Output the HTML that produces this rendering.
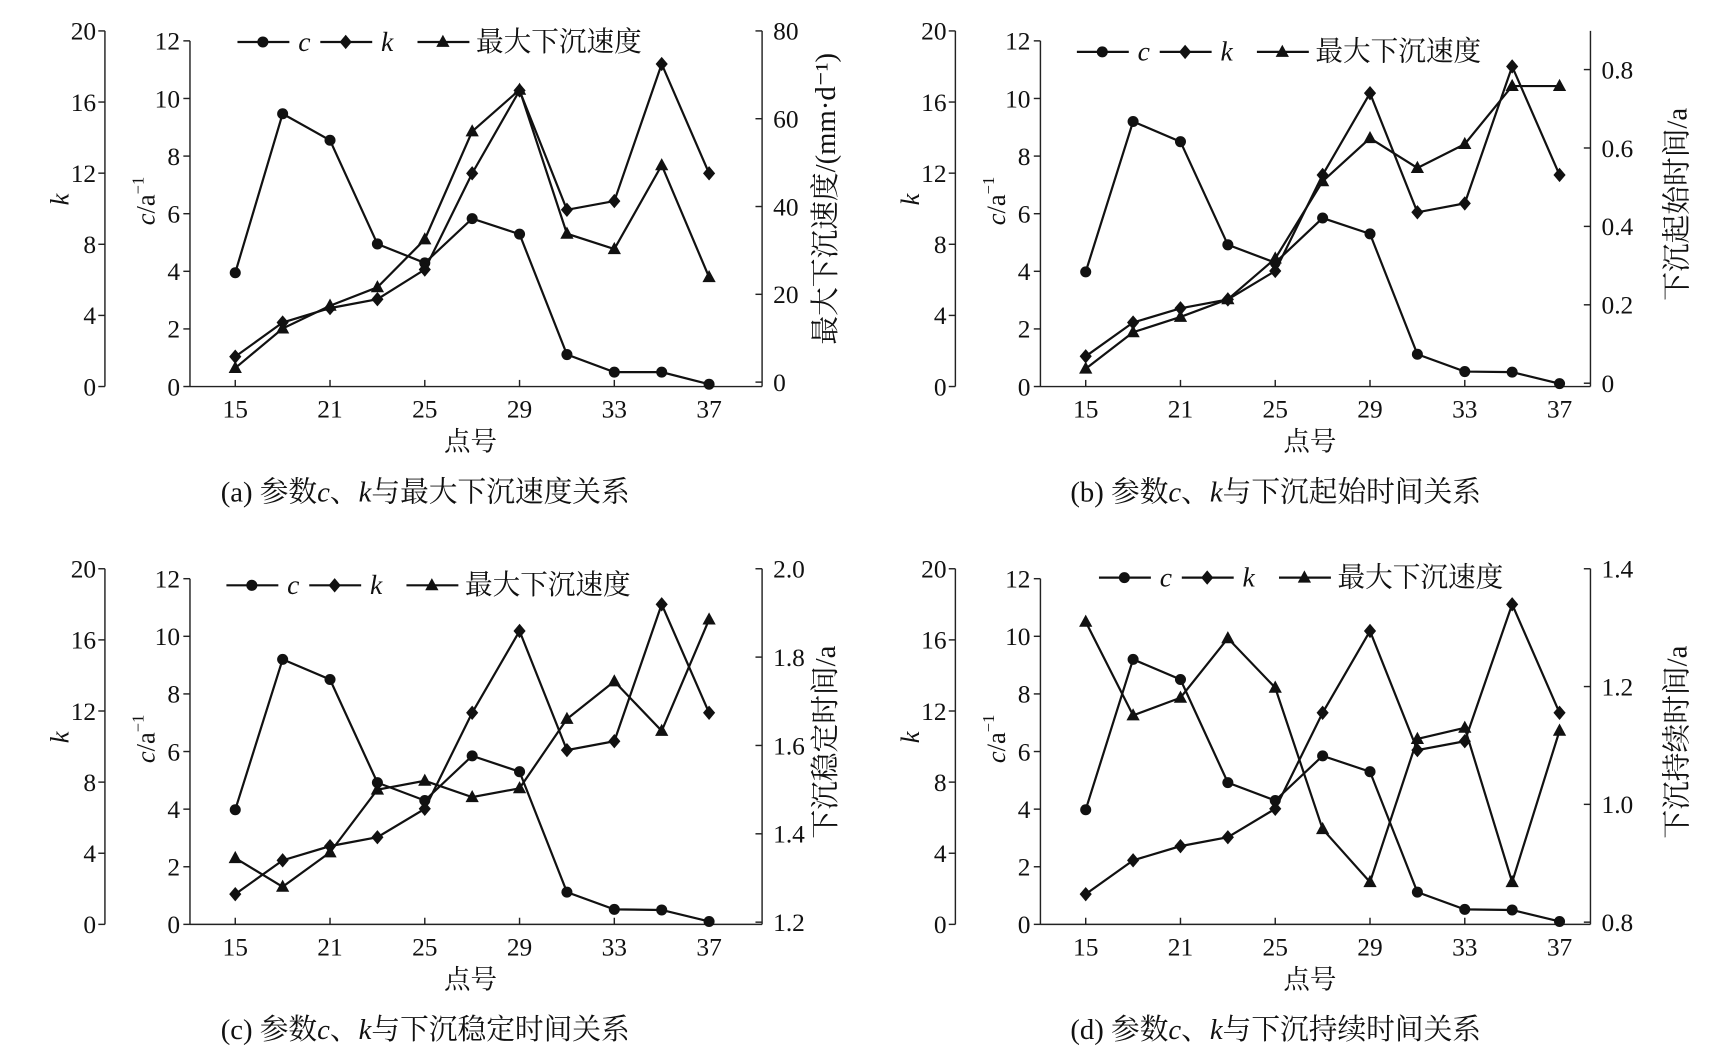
<!DOCTYPE html>
<html><head><meta charset="utf-8"><style>
html,body{margin:0;padding:0;background:#fff;}
svg{display:block;}
text{font-family:"Liberation Serif","Noto Serif CJK SC","Noto Sans CJK SC",serif;fill:#111;}
</style></head><body>
<svg id="chart" width="1723" height="1058" viewBox="0 0 1560 958" preserveAspectRatio="none" xmlns="http://www.w3.org/2000/svg"></svg>
<script>
const points = [15,17,21,23,25,27,29,31,33,35,37];
const xTickIdx = [0,2,4,6,8,10];
const xTickLabels = ["15","21","25","29","33","37"];
const cA = [3.95,9.47,8.55,4.95,4.29,5.83,5.29,1.11,0.50,0.50,0.08];
const kA = [1.68,3.6,4.41,4.91,6.58,11.99,16.65,9.94,10.43,18.14,11.99];
const cOther = [3.98,9.2,8.5,4.92,4.3,5.85,5.3,1.12,0.52,0.50,0.10];
const kOther = [1.7,3.6,4.4,4.9,6.5,11.9,16.5,9.8,10.3,18.0,11.9];
const speedA = [3.2,12.2,17.4,21.6,32.5,57.1,66.6,33.8,30.3,49.4,23.9];
const startB = [0.037,0.13,0.169,0.214,0.318,0.515,0.625,0.549,0.61,0.758,0.758];
const stableC = [1.345,1.28,1.358,1.5,1.52,1.483,1.503,1.66,1.745,1.633,1.885];
const durD = [1.31,1.151,1.181,1.282,1.198,0.958,0.868,1.111,1.13,0.868,1.125];
const cTicks = [0,2,4,6,8,10,12];
const kTicks = [0,4,8,12,16,20];
const rTicksA = [0,20,40,60,80];
const rTicksB = [0,0.2,0.4,0.6,0.8];
const rTicksC = [1.2,1.4,1.6,1.8,2.0];
const rTicksD = [0.8,1.0,1.2,1.4];

const svg = document.getElementById('chart');
const NS = 'http://www.w3.org/2000/svg';
function el(tag, attrs, parent){const e=document.createElementNS(NS,tag);for(const k in attrs)e.setAttribute(k,attrs[k]);(parent||svg).appendChild(e);return e;}
function txt(s, attrs, parent){const e=el('text',attrs,parent);e.textContent=s;return e;}

function panel(o){
  const g=el('g',{});
  
  
  const dx=o.dx, dy=o.dy;
  const L=172+dx, R=o.right+dx, B=350+dy, T=28+dy, kx=95+dx;
  const cTop=37+dy;
  const xs=i=>213+dx+i*42.9;
  const yc=v=>B-v*(B-cTop)/12;
  const yk=v=>B-v*(B-T)/20;
  const rZ=o.rZero+dy, rT=o.rTopY+dy;
  const yr=v=>rZ-(v-o.rMin)*(rZ-rT)/(o.rMax-o.rMin);
  const ax={stroke:'#222','stroke-width':1.3,fill:'none'};
  const kAxis=el('line',Object.assign({x1:kx,y1:T,x2:kx,y2:B},ax),g);
  
  
  kTicks.forEach(v=>{el('line',Object.assign({x1:kx-6,y1:yk(v),x2:kx,y2:yk(v)},ax),g);
    txt(String(v),{x:kx-8,y:yk(v)+8,'font-size':23,'text-anchor':'end'},g);});
  const cAxis=el('line',Object.assign({x1:L,y1:cTop,x2:L,y2:B},ax),g);
  
  
  cTicks.forEach(v=>{el('line',Object.assign({x1:L-6,y1:yc(v),x2:L,y2:yc(v)},ax),g);
    txt(String(v),{x:L-9,y:yc(v)+8,'font-size':23,'text-anchor':'end'},g);});
  const xAxis=el('line',Object.assign({x1:L,y1:B,x2:R,y2:B},ax),g);
  
  
  xTickIdx.forEach((i,j)=>{el('line',Object.assign({x1:xs(i),y1:B,x2:xs(i),y2:B-6},ax),g);
    txt(xTickLabels[j],{x:xs(i),y:B+28,'font-size':23,'text-anchor':'middle'},g);});
  const rAxis=el('line',Object.assign({x1:R,y1:T,x2:R,y2:B},ax),g);
  
  
  o.rTicks.forEach(v=>{el('line',Object.assign({x1:R-6,y1:yr(v),x2:R,y2:yr(v)},ax),g);
    txt(o.rFmt(v),{x:R+10,y:yr(v)+8,'font-size':23},g);});
  const kt=txt('k',{x:0,y:0,'font-size':24,'font-style':'italic',transform:`translate(${62+dx},${186+dy}) rotate(-90)`},g);
  
  
  const ct=el('text',{x:0,y:0,'font-size':24,'text-anchor':'middle',transform:`translate(${140+dx},${182+dy}) rotate(-90)`},g);
  
  
  ct.innerHTML='<tspan font-style="italic">c</tspan>/a<tspan font-size="15" dy="-10">−1</tspan>';
  const rt=txt(o.rTitle,{x:0,y:0,'font-size':26,'text-anchor':'middle',transform:`translate(${R+o.rTitleOff},${o.rTitleY+dy}) rotate(-90)`},g);
  
  
  const xt=txt('点号',{x:L+(R-L)/2-5,y:B+58,'font-size':24,'text-anchor':'middle'},g);
  
  
  const cap=el('text',{x:385+dx,y:B+104,'font-size':26,'text-anchor':'middle'},g);
  
  
  cap.innerHTML=o.caption;
  function series(vals,yf,marker,name){
    const sg=el('g',{},g);
    
    
    el('polyline',{points:vals.map((v,i)=>xs(i)+','+yf(v)).join(' '),fill:'none',stroke:'#111','stroke-width':2},sg);
    vals.forEach((v,i)=>{const m=drawMarker(marker,xs(i),yf(v),sg);
      
      });
  }
  series(o.c,yc,'circle','series-c');
  series(o.k,yk,'diamond','series-k');
  series(o.r,yr,'triangle','series-right');
  const lg=el('g',{},g);
  
  
  const ly=o.legY+dy, lx=o.legX+dx;
  [['circle',0,'c',true],['diamond',75,'k',true],['triangle',163,'最大下沉速度',false]].forEach(([m,off,lab,it])=>{
    const eg=el('g',{},lg);
    
    
    el('line',{x1:lx+off,y1:ly,x2:lx+off+47,y2:ly,stroke:'#111','stroke-width':2},eg);
    drawMarker(m,lx+off+23,ly,eg);
    txt(lab,{x:lx+off+(it?55:53),y:ly+8,'font-size':25,'font-style':it?'italic':'normal'},eg);
  });
}
function drawMarker(m,x,y,p){
  if(m==='circle')return el('circle',{cx:x,cy:y,r:5,fill:'#111'},p);
  if(m==='diamond')return el('polygon',{points:`${x},${y-6.5} ${x+5.5},${y} ${x},${y+6.5} ${x-5.5},${y}`,fill:'#111'},p);
  return el('polygon',{points:`${x},${y-6.5} ${x+6},${y+4.5} ${x-6},${y+4.5}`,fill:'#111'},p);
}
panel({id:'a',dx:0,dy:0,right:690,c:cA,k:kA,r:speedA,rMin:0,rMax:80,rZero:346,rTopY:28,rTicks:rTicksA,rFmt:v=>String(v),
  rTitle:'最大下沉速度/(mm·d⁻¹)',rTitleOff:66,rTitleY:180,legX:215,legY:38,
  caption:'(a)  参数<tspan font-style="italic">c</tspan>、<tspan font-style="italic">k</tspan>与最大下沉速度关系'});
panel({id:'b',dx:770,dy:0,right:670,c:cOther,k:kOther,r:startB,rMin:0,rMax:0.8,rZero:347,rTopY:63,rTicks:rTicksB,rFmt:v=>v.toFixed(1).replace('0.0','0'),
  rTitle:'下沉起始时间/a',rTitleOff:87,rTitleY:185,legX:205,legY:47,
  caption:'(b)  参数<tspan font-style="italic">c</tspan>、<tspan font-style="italic">k</tspan>与下沉起始时间关系'});
panel({id:'c',dx:0,dy:487,right:690,c:cOther,k:kOther,r:stableC,rMin:1.2,rMax:2.0,rZero:348,rTopY:28,rTicks:rTicksC,rFmt:v=>v.toFixed(1),
  rTitle:'下沉稳定时间/a',rTitleOff:66,rTitleY:185,legX:205,legY:43,
  caption:'(c)  参数<tspan font-style="italic">c</tspan>、<tspan font-style="italic">k</tspan>与下沉稳定时间关系'});
panel({id:'d',dx:770,dy:487,right:670,c:cOther,k:kOther,r:durD,rMin:0.8,rMax:1.4,rZero:348,rTopY:28,rTicks:rTicksD,rFmt:v=>v.toFixed(1),
  rTitle:'下沉持续时间/a',rTitleOff:87,rTitleY:185,legX:225,legY:36,
  caption:'(d)  参数<tspan font-style="italic">c</tspan>、<tspan font-style="italic">k</tspan>与下沉持续时间关系'});
</script>
</body></html>
